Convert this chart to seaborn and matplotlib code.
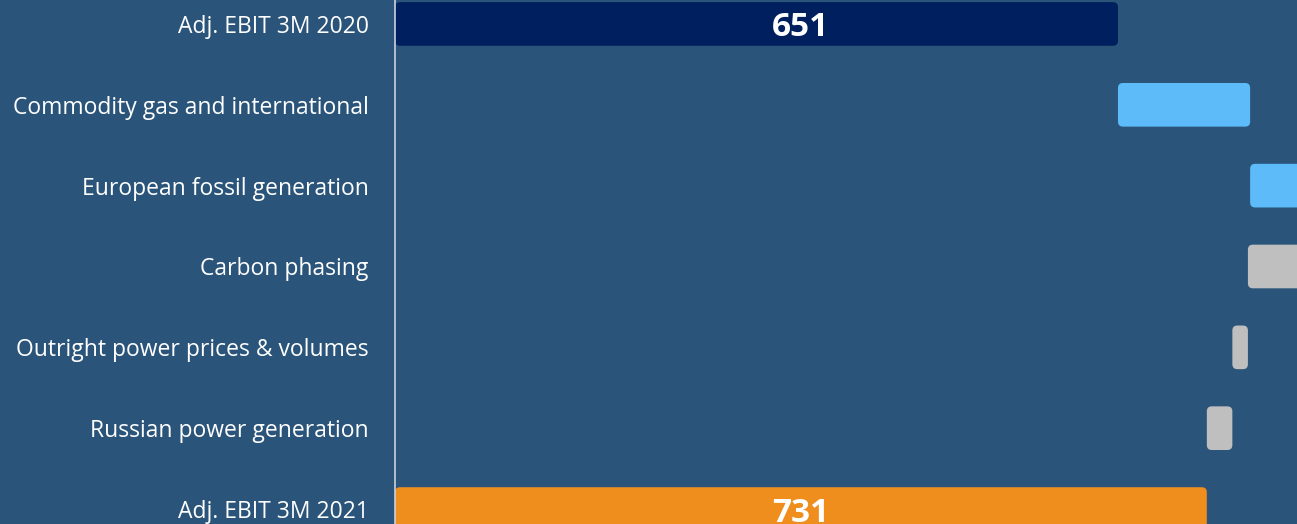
import numpy as np
import pandas as pd
import seaborn as sns
import matplotlib.pyplot as plt
from matplotlib.patches import FancyBboxPatch

# waterfall data (EUR m)
categories = ["Adj. EBIT 3M 2020", "Commodity gas and international", "European fossil generation",
              "Carbon phasing", "Outright power prices & volumes", "Russian power generation",
              "Adj. EBIT 3M 2021"]
changes = [651, 119, 75, -77, -14, -23, 731]
is_total = [True, False, False, False, False, False, True]
bar_colors = ["#001F5E", "#5CBBF8", "#5CBBF8", "#BFBFBF", "#BFBFBF", "#BFBFBF", "#EF8E1D"]

bg = "#2A5479"

# start of each bar
starts = []
running = 0
for c, t in zip(changes, is_total):
    if t:
        starts.append(0)
        running = c
    else:
        starts.append(running)
        running += c

df = pd.DataFrame({"label": categories, "change": changes, "start": starts})

sns.set_style("white")
plt.rcParams['font.family'] = ['Open Sans', 'DejaVu Sans']

fig = plt.figure(figsize=(12.97, 5.24), dpi=100)
fig.patch.set_facecolor(bg)
ax = fig.add_axes([395 / 1297, 0, 1 - 395 / 1297, 1])
ax.set_facecolor(bg)

sns.barplot(data=df, x="change", y="label", orient="h", left=df["start"].values,
            color="#BFBFBF", width=0.54, ax=ax)

# swap the plain rectangles for rounded ones
r = 4.5
aspect = (5 / 81) / r
for patch, col in zip(list(ax.patches), bar_colors):
    x0, y0 = patch.get_x(), patch.get_y()
    w, h = patch.get_width(), patch.get_height()
    if w < 0:
        x0, w = x0 + w, -w
    patch.remove()
    ax.add_patch(FancyBboxPatch((x0, y0), w, h,
                                boxstyle=f"round,pad=0,rounding_size={r}",
                                mutation_aspect=aspect, facecolor=col,
                                edgecolor="none", zorder=2))

# total labels sit on a common centre line
label_x = max(c for c, t in zip(changes, is_total) if t) / 2
for i, (c, t) in enumerate(zip(changes, is_total)):
    if t:
        ax.text(label_x, i, str(c), ha="center", va="center_baseline", color="white",
                fontsize=24, fontweight="bold", zorder=3)

ax.set_xlim(0, 812.2)
ax.set_ylim(6 + 15 / 81, -24 / 81)
ax.set_xlabel("")
ax.set_ylabel("")
ax.set_xticks([])
ax.tick_params(axis="y", length=0, pad=19, labelsize=16.5, labelcolor="white")
for s in ["top", "right", "bottom"]:
    ax.spines[s].set_visible(False)
ax.spines["left"].set_color("#C9D2DE")
ax.spines["left"].set_linewidth(1.2)

fig.savefig("out.png", dpi=100, facecolor=bg)
